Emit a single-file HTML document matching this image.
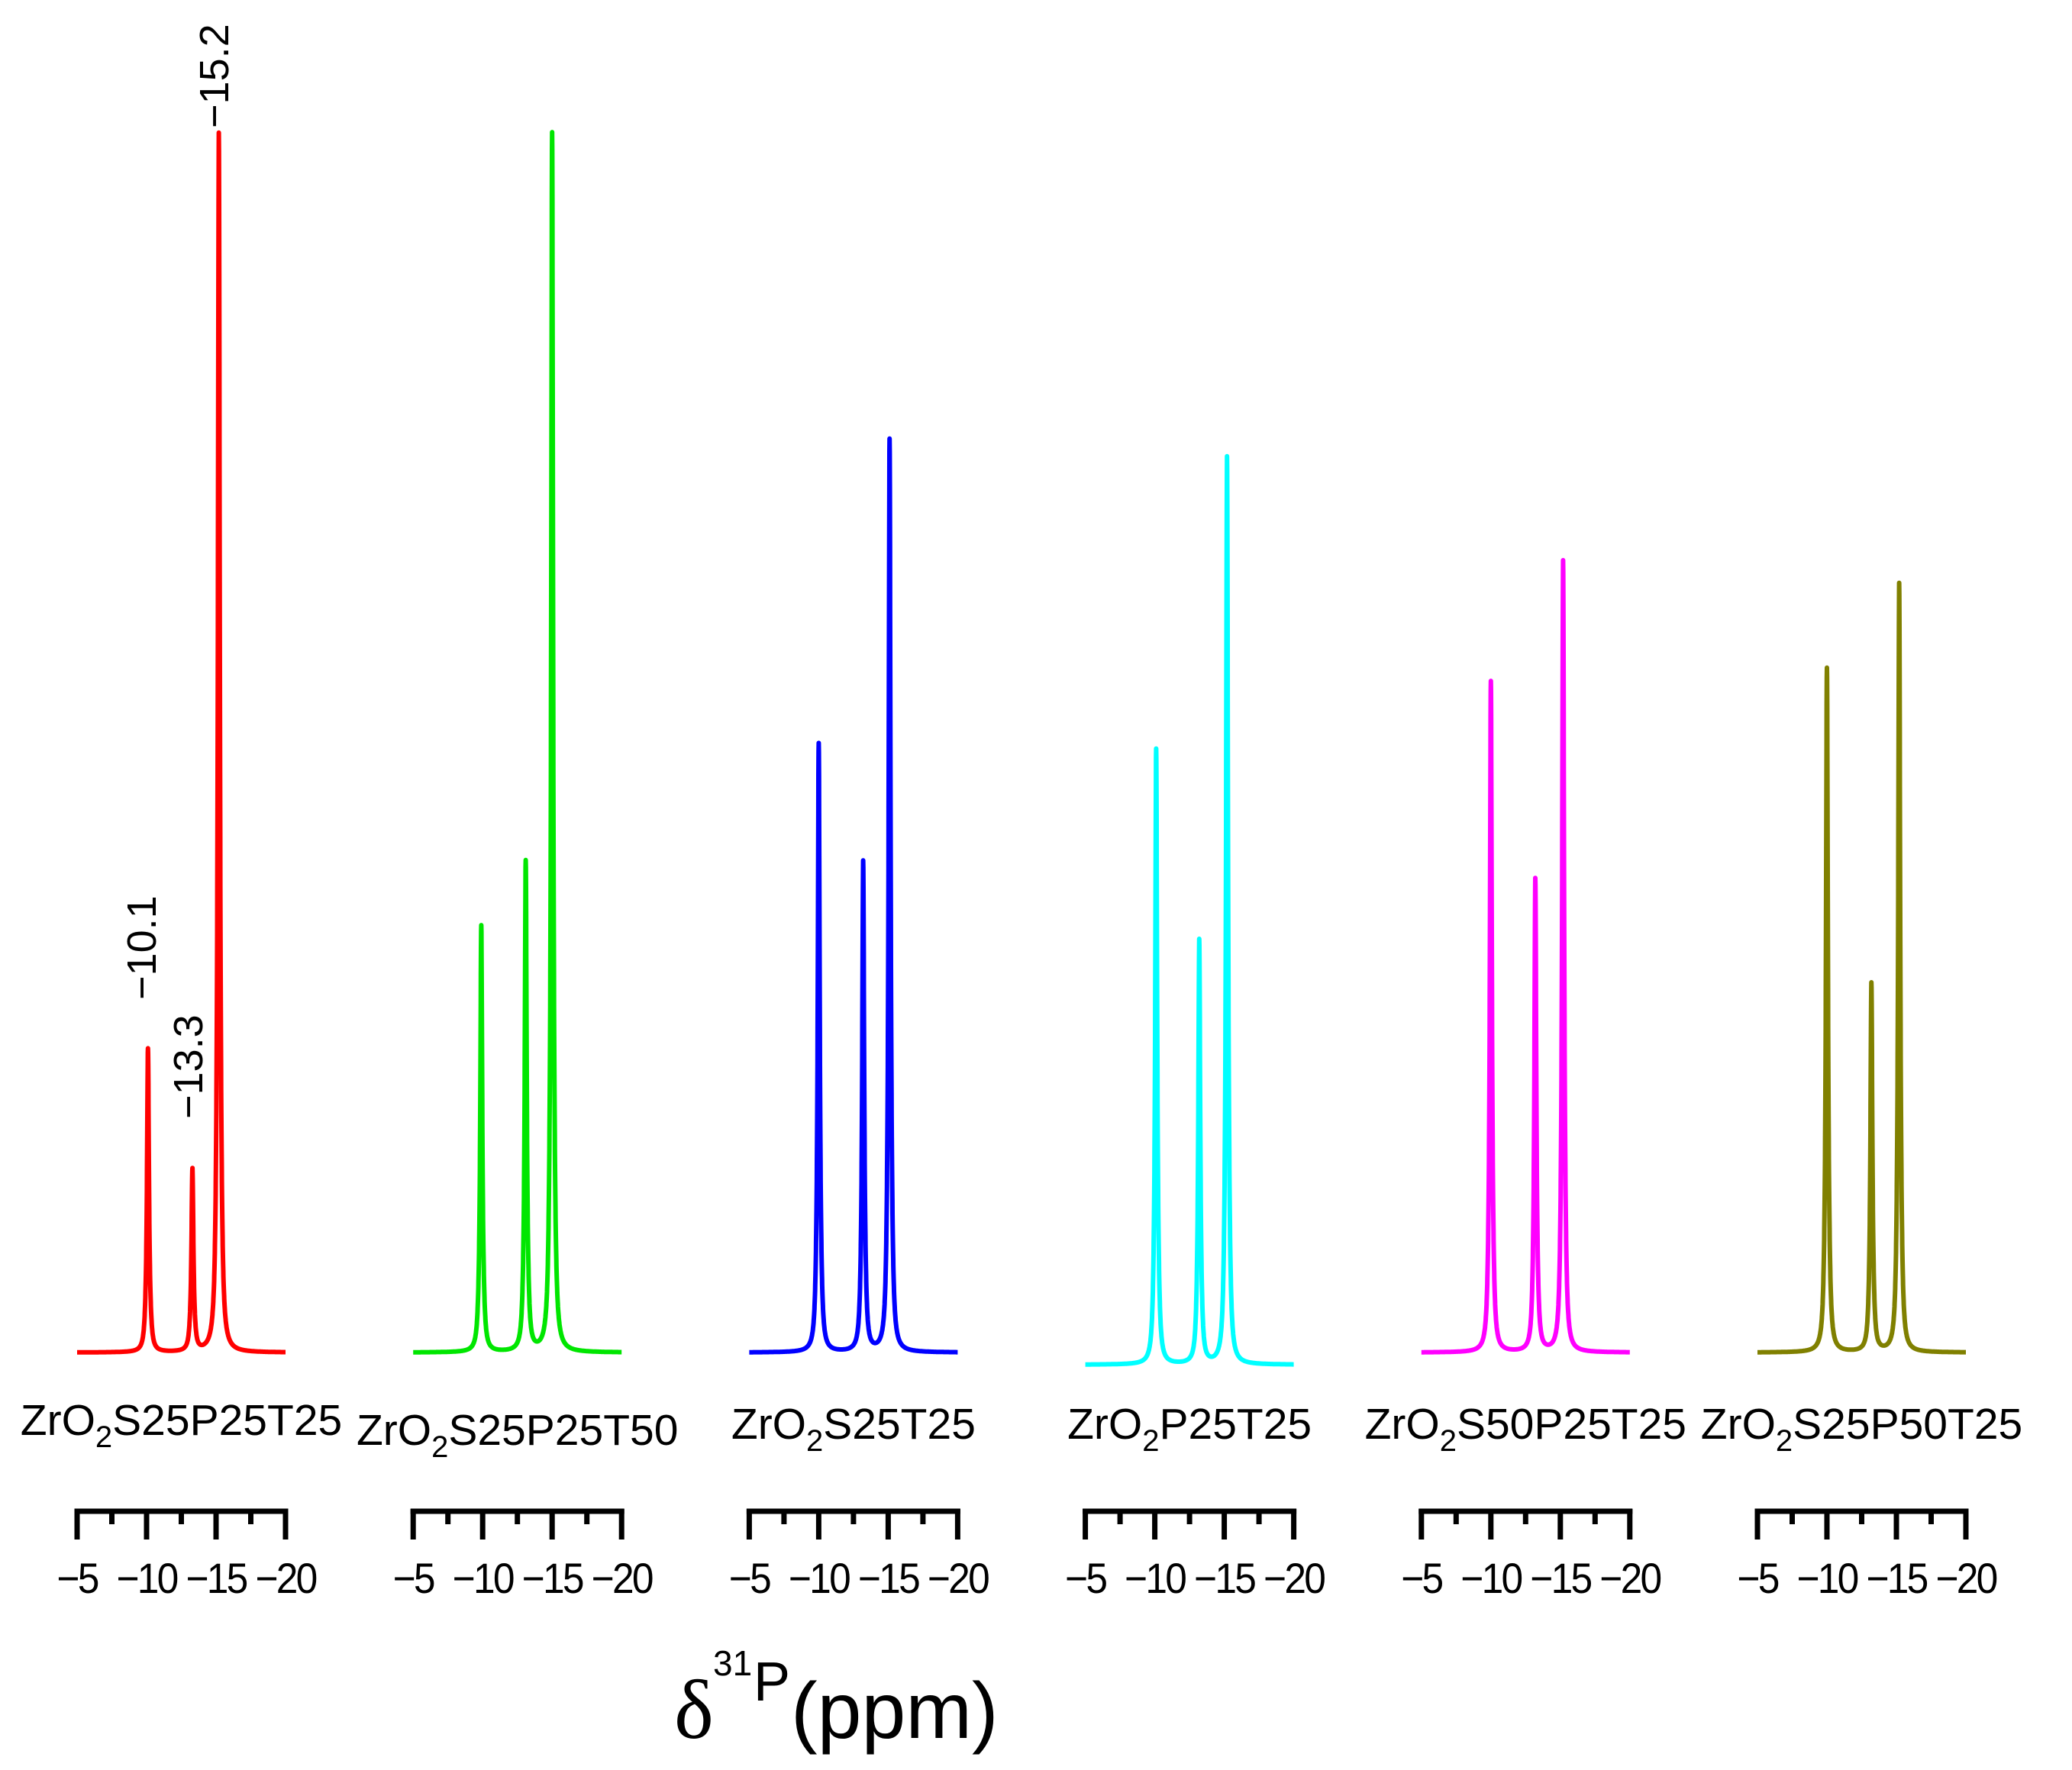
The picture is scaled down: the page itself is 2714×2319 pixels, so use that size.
<!DOCTYPE html>
<html><head><meta charset="utf-8"><style>
html,body{margin:0;padding:0;background:#fff}
svg{display:block}
text{font-family:"Liberation Sans",sans-serif;fill:#000}
</style></head><body>
<svg id="chart" width="2714" height="2319" viewBox="0 0 2714 2319" xmlns="http://www.w3.org/2000/svg">
<rect width="2714" height="2319" fill="#fff"/>
<g id="plots"></g>
<g>
<text transform="translate(299,168) rotate(-90)" font-size="54">−15.2</text>
<text transform="translate(204,1310) rotate(-90)" font-size="54">−10.1</text>
<text transform="translate(265,1466) rotate(-90)" font-size="54">−13.3</text>
</g>
<g>
<text x="883" y="2277" font-size="110" style="font-family:'Liberation Serif',serif">δ</text>
<text x="934" y="2195" font-size="46">31</text>
<text x="987" y="2228" font-size="72">P</text>
<text x="1036" y="2277" font-size="104">(ppm)</text>
</g>
</svg>
<script>
const sampleNames = ["S25P25T25","S25P25T50","S25T25","P25T25","S50P25T25","S25P50T25"];
const seriesColors = ["#ff0000","#00e600","#0000ff","#00ffff","#ff00ff","#808000"];
const peakShifts = [
  [-10.1,-13.3,-15.2],
  [-9.9,-13.1,-15.0],
  [-10.0,-13.2,-15.1],
  [-10.1,-13.2,-15.2],
  [-10.0,-13.2,-15.2],
  [-10.0,-13.2,-15.2]
];
const peakHeights = [
  [230,138,923],
  [323,371,923],
  [461,371,691],
  [466,321,687],
  [508,358,599],
  [518,279,582]
];
const tickValues = [-5,-10,-15,-20];
const tickLabels = ["−5","−10","−15","−20"];

const NS = "http://www.w3.org/2000/svg";
const g = document.getElementById('plots');
const panelLeft = 101, panelStep = 440.2, axisW = 273;
const baseY = [1772,1772,1772,1788,1772,1772];
const labelY = [1880,1893,1885,1885,1885,1885];
const yScale = 1.731;
function xScale(p, ppm){ return panelLeft + p*panelStep + (-5 - ppm)/15*axisW; }
function yVal(p, v){ return baseY[p] - v*yScale; }
function mk(tag, attrs){ const e=document.createElementNS(NS,tag); for(const k in attrs) e.setAttribute(k,attrs[k]); return e; }

sampleNames.forEach((name,p)=>{
  const grp = mk('g',{});
  
  
  g.appendChild(grp);
  let d = "";
  const w = 0.08, w2 = 0.22;
  for(let ppm=-5; ppm>=-20.001; ppm-=0.01){
    let v = 0;
    peakShifts[p].forEach((c,i)=>{
      const h = peakHeights[p][i];
      const dx = ppm - c;
      v += h*0.94/(1+(dx/w)*(dx/w)) + h*0.06/(1+Math.pow(dx/w2,4));
    });
    d += (d?"L":"M") + xScale(p,ppm).toFixed(1) + "," + yVal(p,v).toFixed(1);
  }
  const path = mk('path',{d:d, fill:'none', stroke:seriesColors[p], 'stroke-width':6, 'stroke-linejoin':'round'});
  
  
  grp.appendChild(path);
  const cx = xScale(p,-12.5);
  const t = mk('text',{x:cx, y:labelY[p], 'font-size':57, 'text-anchor':'middle'});
  
  
  t.appendChild(document.createTextNode('ZrO'));
  const sub = mk('tspan',{'font-size':40, dy:16}); sub.textContent='2'; t.appendChild(sub);
  const rest = mk('tspan',{dy:-16}); rest.textContent=name; t.appendChild(rest);
  grp.appendChild(t);
  const ax = mk('g',{});
  
  
  grp.appendChild(ax);
  const x0 = xScale(p,-5), x1 = xScale(p,-20);
  const line = mk('line',{x1:x0-3.5,y1:1980,x2:x1+3.5,y2:1980,stroke:'#000','stroke-width':7});
  
  
  ax.appendChild(line);
  tickValues.forEach((tv,i)=>{
    const tx = xScale(p,tv);
    const tk = mk('line',{x1:tx,y1:1977,x2:tx,y2:2017,stroke:'#000','stroke-width':7});
    
    
    ax.appendChild(tk);
    if(i<tickValues.length-1){
      const mx = xScale(p,tv-2.5);
      const mt = mk('line',{x1:mx,y1:1977,x2:mx,y2:1997,stroke:'#000','stroke-width':7});
      
      
      ax.appendChild(mt);
    }
    const lb = mk('text',{x:0, y:0, 'font-size':56, 'text-anchor':'middle', 'letter-spacing':'-3', transform:'translate('+tx+',2087) scale(0.92,1)'});
    
    
    lb.textContent = tickLabels[i];
    ax.appendChild(lb);
  });
});
</script>
</body></html>
